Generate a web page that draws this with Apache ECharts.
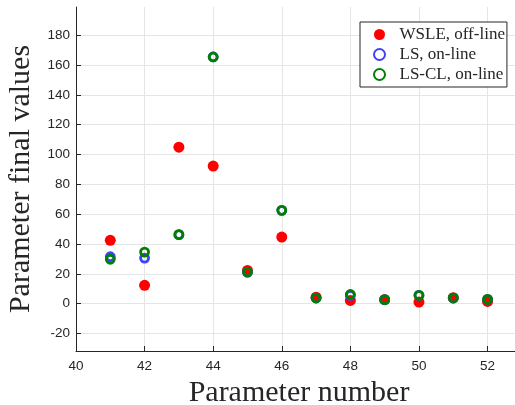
<!DOCTYPE html>
<html>
<head>
<meta charset="utf-8">
<script src="https://cdn.jsdelivr.net/npm/echarts@6/dist/echarts.min.js"></script>
<style>
  html, body { margin: 0; padding: 0; background: #ffffff; }
  #chart { width: 515px; height: 405px; }
</style>
</head>
<body>
<div id="chart"></div>
<script>
// Parameter indices on the horizontal axis
const paramNumbers = [41, 42, 43, 44, 45, 46, 47, 48, 49, 50, 51, 52];
// Final parameter values per estimation method
const wsleOffline = [42.5, 12.3, 104.9, 92.3, 22.3, 44.7, 4.4, 2.2, 2.7, 1.1, 4.0, 1.5];
const lsOnline    = [31.5, 30.6, 46.3, 165.4, 21.2, 62.6, 3.8, 5.6, 2.7, 5.6, 3.8, 2.9];
const lsclOnline  = [29.8, 34.6, 46.3, 165.4, 21.2, 62.6, 3.8, 6.2, 2.7, 5.6, 3.8, 2.9];
// Tick positions
const xTicks = [40, 42, 44, 46, 48, 50, 52];
const yTicks = [-20, 0, 20, 40, 60, 80, 100, 120, 140, 160, 180];

const pairs = ys => paramNumbers.map((x, i) => [x, ys[i]]);

const axisColor = '#262626';
const gridColor = '#e5e5e5';
const tickFont = { fontFamily: 'Liberation Sans, Arial, sans-serif', fontSize: 13.5, color: axisColor };
const titleFont = { fontFamily: 'Liberation Serif, Times New Roman, serif', fontSize: 30, color: axisColor };

const chart = echarts.init(document.getElementById('chart'), null, { renderer: 'canvas' });
chart.setOption({
  animation: false,
  backgroundColor: '#ffffff',
  grid: { left: 76, right: 0, top: 7, bottom: 54, containLabel: false, outerBoundsMode: 'none' },
  xAxis: {
    type: 'value',
    min: 40, max: 52.8,
    name: 'Parameter number',
    nameLocation: 'middle',
    nameGap: 27,
    nameTextStyle: Object.assign({}, titleFont, { padding: [0, 0, 0, 7] }),
    axisLine: { show: true, onZero: false, lineStyle: { color: axisColor, width: 1 } },
    axisTick: { show: true, inside: true, length: 5, customValues: xTicks, lineStyle: { color: axisColor } },
    axisLabel: Object.assign({ margin: 8, customValues: xTicks }, tickFont),
    splitLine: { show: true, lineStyle: { color: gridColor, width: 1 } }
  },
  yAxis: {
    type: 'value',
    min: -31.7, max: 198.9,
    name: 'Parameter final values',
    nameLocation: 'middle',
    nameGap: 37,
    nameTextStyle: titleFont,
    axisLine: { show: true, onZero: false, lineStyle: { color: axisColor, width: 1 } },
    axisTick: { show: true, inside: true, length: 5, customValues: yTicks, lineStyle: { color: axisColor } },
    axisLabel: Object.assign({ margin: 6, customValues: yTicks }, tickFont),
    splitLine: { show: true, lineStyle: { color: gridColor, width: 1 } }
  },
  legend: {
    orient: 'vertical',
    left: 360, top: 22,
    padding: [4, 2, 4, 13],
    itemWidth: 20, itemHeight: 11,
    itemGap: 3,
    icon: 'circle',
    backgroundColor: '#ffffff',
    borderColor: axisColor,
    borderWidth: 1,
    borderRadius: 0,
    textStyle: { fontFamily: 'Liberation Serif, Times New Roman, serif', fontSize: 17, color: axisColor, lineHeight: 16, padding: [0, 0, 0, 5] },
    data: ['WSLE, off-line', 'LS, on-line', 'LS-CL, on-line']
  },
  series: [
    {
      name: 'WSLE, off-line',
      type: 'scatter',
      data: pairs(wsleOffline),
      symbol: 'circle',
      symbolSize: 11,
      itemStyle: { color: '#ff0000', opacity: 1 },
      z: 2
    },
    {
      name: 'LS, on-line',
      type: 'scatter',
      data: pairs(lsOnline),
      symbol: 'circle',
      symbolSize: 8,
      itemStyle: { color: 'transparent', borderColor: '#4040ff', borderWidth: 2.8, opacity: 1 },
      z: 3
    },
    {
      name: 'LS-CL, on-line',
      type: 'scatter',
      data: pairs(lsclOnline),
      symbol: 'circle',
      symbolSize: 8,
      itemStyle: { color: 'transparent', borderColor: '#008000', borderWidth: 2.8, opacity: 1 },
      z: 4
    }
  ]
});
</script>
</body>
</html>
